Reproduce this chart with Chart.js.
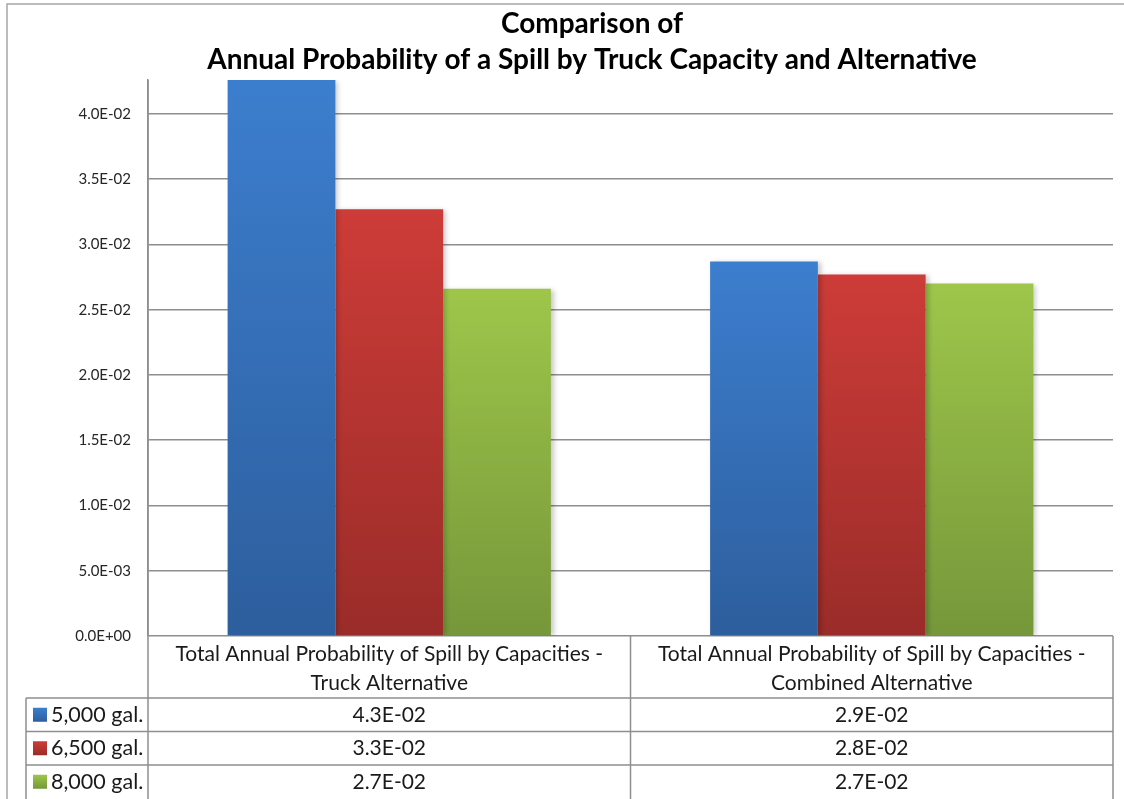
<!DOCTYPE html>
<html>
<head>
<meta charset="utf-8">
<script src="https://cdn.jsdelivr.net/npm/chart.js@4"></script>
<style>
  body { margin:0; background:#fff; }
  #wrap { width:1124px; height:799px; }
</style>
</head>
<body>
<div id="wrap"><canvas id="spillChart" width="1124" height="799"></canvas></div>
<script>
const titleLines = ['Comparison of', 'Annual Probability of a Spill by Truck Capacity and Alternative'];
const categories = [
  ['Total Annual Probability of Spill by Capacities -', 'Truck Alternative'],
  ['Total Annual Probability of Spill by Capacities -', 'Combined Alternative']
];
const seriesNames = ['5,000 gal.', '6,500 gal.', '8,000 gal.'];
const gal5000 = [0.0426, 0.0287];
const gal6500 = [0.0327, 0.0277];
const gal8000 = [0.0266, 0.0270];
const yMax = 0.0426, yStep = 0.005;

const FONT = 'Lato, "Open Sans", sans-serif';
const GRID = '#8e8e8e';

function sci(v) {
  const [m, e] = v.toExponential(1).split('e');
  const n = parseInt(e, 10);
  return m + 'E' + (n < 0 ? '-' : '+') + String(Math.abs(n)).padStart(2, '0');
}

function barFill(top, bot) {
  return c => {
    const ch = c.chart, a = ch.chartArea;
    if (!a || c.type !== 'data') return top;
    const y = ch.scales.y;
    const yt = Math.max(y.getPixelForValue(c.raw), a.top);
    const yb = y.getPixelForValue(0);
    const g = ch.ctx.createLinearGradient(0, yt, 0, yb);
    g.addColorStop(0, top); g.addColorStop(1, bot);
    return g;
  };
}

const palette = [['#3c7ece', '#2d5e9d'], ['#cd3c38', '#9a2c29'], ['#9ec64a', '#76973a']];

// outer border, title, bar shadow and the data table under the plot
const decor = {
  id: 'decor',
  beforeDatasetsDraw(chart) {
    const ctx = chart.ctx;
    ctx.save();
    ctx.shadowColor = 'rgba(0,0,0,0.22)'; ctx.shadowBlur = 5; ctx.shadowOffsetX = 3; ctx.shadowOffsetY = 1;
  },
  afterDatasetsDraw(chart) { chart.ctx.restore(); },
  afterDraw(chart) {
    const ctx = chart.ctx, a = chart.chartArea, x = chart.scales.x;
    ctx.save();
    // chart frame
    ctx.strokeStyle = '#a6a6a6'; ctx.lineWidth = 1.5;
    ctx.beginPath(); ctx.moveTo(7, 799); ctx.lineTo(7, 4); ctx.lineTo(1124, 4); ctx.stroke();

    // title
    ctx.fillStyle = '#000'; ctx.textAlign = 'center'; ctx.textBaseline = 'alphabetic';
    ctx.font = 'bold 28px ' + FONT;
    ctx.fillText(titleLines[0], 592, 33);
    ctx.fillText(titleLines[1], 592, 69);

    // table grid
    const half = (x.getPixelForValue(1) - x.getPixelForValue(0)) / 2;
    const headTop = a.bottom, headBot = 698, rowH = 33.5;
    ctx.strokeStyle = GRID; ctx.lineWidth = 1.5;
    ctx.beginPath();
    ctx.moveTo(a.left, a.top); ctx.lineTo(a.left, 799);
    ctx.moveTo(x.getPixelForValue(0) + half, headTop); ctx.lineTo(x.getPixelForValue(0) + half, 799);
    ctx.moveTo(a.right, headTop); ctx.lineTo(a.right, 799);
    ctx.moveTo(26, headBot); ctx.lineTo(26, 799);
    for (let r = 0; r < 3; r++) {
      const yy = headBot + r * rowH;
      ctx.moveTo(26, yy); ctx.lineTo(a.right, yy);
    }
    ctx.stroke();

    // header labels
    ctx.fillStyle = '#1a1a1a'; ctx.font = '21px ' + FONT; ctx.textBaseline = 'middle';
    categories.forEach((lines, i) => {
      const cx = x.getPixelForValue(i);
      lines.forEach((t, j) => ctx.fillText(t, cx, 654 + j * 29));
    });

    // value rows + legend keys
    const rows = [gal5000, gal6500, gal8000];
    rows.forEach((vals, r) => {
      const cy = headBot + r * rowH + rowH / 2;
      ctx.font = '21px ' + FONT;
      vals.forEach((v, i) => { ctx.textAlign = 'center'; ctx.fillText(sci(v), x.getPixelForValue(i), cy); });
      const g = ctx.createLinearGradient(0, cy - 7, 0, cy + 7);
      g.addColorStop(0, palette[r][0]); g.addColorStop(1, palette[r][1]);
      ctx.fillStyle = g; ctx.fillRect(33, cy - 7, 14, 14);
      ctx.fillStyle = '#1a1a1a'; ctx.textAlign = 'left';
      ctx.font = '21.5px ' + FONT;
      ctx.fillText(seriesNames[r], 51, cy);
    });
    ctx.restore();
  }
};

const datasets = [gal5000, gal6500, gal8000].map((d, i) => ({
  label: seriesNames[i],
  data: d,
  backgroundColor: barFill(palette[i][0], palette[i][1]),
  borderWidth: 0,
  categoryPercentage: 0.67,
  barPercentage: 1.0
}));

new Chart(document.getElementById('spillChart'), {
  type: 'bar',
  data: { labels: categories, datasets },
  plugins: [decor],
  options: {
    responsive: false,
    animation: false,
    layout: { padding: { left: 0, top: 80, right: 11, bottom: 163 } },
    plugins: { legend: { display: false }, title: { display: false }, tooltip: { enabled: false } },
    scales: {
      x: { display: false },
      y: {
        min: 0, max: yMax,
        afterFit: s => { s.width = 148; },
        afterBuildTicks: s => { s.ticks = s.ticks.filter(t => Math.abs(t.value / yStep - Math.round(t.value / yStep)) < 1e-6); },
        border: { display: true, color: GRID, width: 1.5 },
        grid: { color: GRID, lineWidth: 1.5, drawTicks: false },
        ticks: {
          stepSize: yStep, padding: 17, color: '#262626',
          font: { family: FONT, size: 15 },
          callback: v => sci(v)
        }
      }
    }
  }
});
</script>
</body>
</html>
